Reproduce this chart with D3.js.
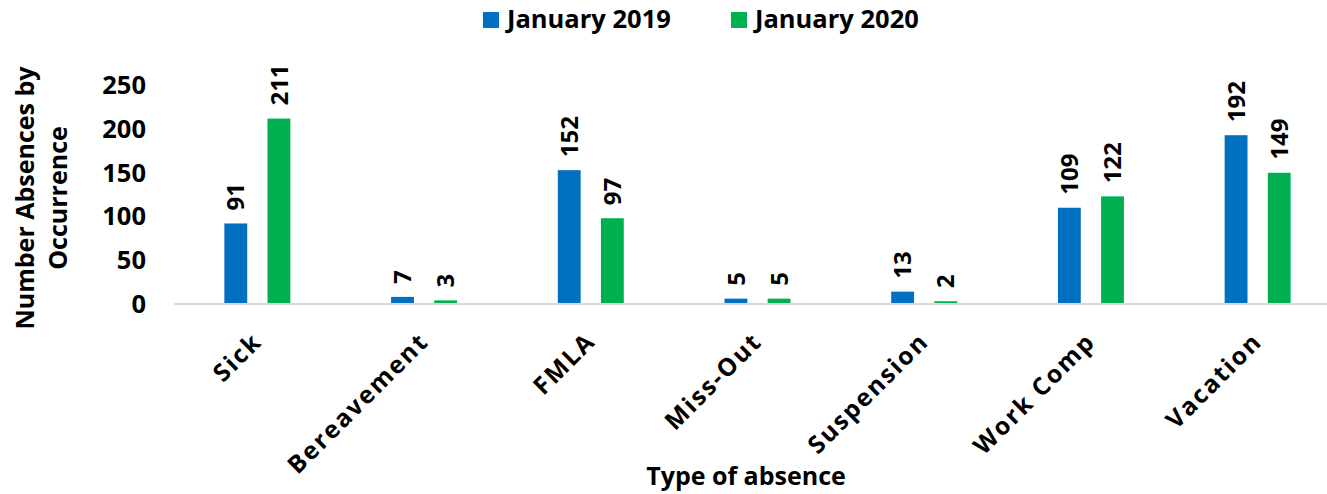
<!DOCTYPE html>
<html lang="en">
<head>
<meta charset="UTF-8">
<title>Absences</title>
<style>
  body { margin: 0; background: #fff; }
  text { font-family: "Open Sans", Lato, sans-serif; font-weight: bold; fill: #000; }
</style>
</head>
<body>
<script src="https://d3js.org/d3.v7.min.js"></script>
<script>
// data
var categories = ["Sick", "Bereavement", "FMLA", "Miss-Out", "Suspension", "Work Comp", "Vacation"];
var seriesNames = ["January 2019", "January 2020"];
var jan2019 = [91, 7, 152, 5, 13, 109, 192];
var jan2020 = [211, 3, 97, 5, 2, 122, 149];
var yTicks = [0, 50, 100, 150, 200, 250];
var colors = ["#0070C0", "#00B050"];

var width = 1327, height = 494;
var svg = d3.select("body").append("svg").attr("width", width).attr("height", height);

var x = d3.scaleBand().domain(categories).range([174, 1341]);
var sub = d3.scaleBand().domain(seriesNames).range([-33, 33]).paddingInner(0.47);
var y = d3.scaleLinear().domain([0, 250]).range([303, 84.5]);

var rows = categories.map(function (c, i) {
  return { cat: c, vals: [jan2019[i], jan2020[i]] };
});

// y axis labels
var yAxis = d3.axisLeft(y).tickValues(yTicks).tickSize(0).tickPadding(0);
var gy = svg.append("g").attr("transform", "translate(146,0)").call(yAxis);
gy.select(".domain").remove();
gy.selectAll("text").style("font-size", "25.5px").attr("dy", "0.36em");

// baseline
svg.append("line")
  .attr("x1", 174).attr("x2", width)
  .attr("y1", y(0) + 1).attr("y2", y(0) + 1)
  .attr("stroke", "#d9d9d9").attr("stroke-width", 2);

// bars
var groups = svg.selectAll(".grp").data(rows).enter().append("g")
  .attr("transform", function (d) { return "translate(" + (x(d.cat) + x.bandwidth() / 2) + ",0)"; });

groups.selectAll("rect").data(function (d) {
  return d.vals.map(function (v, i) { return { s: seriesNames[i], v: v, i: i }; });
}).enter().append("rect")
  .attr("x", function (d) { return sub(d.s); })
  .attr("width", sub.bandwidth())
  .attr("y", function (d) { return y(d.v); })
  .attr("height", function (d) { return y(0) - y(d.v); })
  .attr("fill", function (d) { return colors[d.i]; });

groups.selectAll(".lbl").data(function (d) {
  return d.vals.map(function (v, i) { return { s: seriesNames[i], v: v }; });
}).enter().append("text")
  .attr("transform", function (d) {
    return "translate(" + (sub(d.s) + sub.bandwidth() / 2) + "," + (y(d.v) - 13) + ") rotate(-90)";
  })
  .attr("dy", "0.36em")
  .style("font-size", "24px")
  .text(function (d) { return d.v; });

// x category labels
svg.selectAll(".xl").data(categories).enter().append("text")
  .attr("transform", function (d) {
    return "translate(" + (x(d) + x.bandwidth() / 2 + 6) + ",343) rotate(-45)";
  })
  .attr("text-anchor", "end")
  .style("font-size", "24.5px")
  .style("letter-spacing", "2px")
  .text(function (d) { return d; });

// axis titles
svg.append("text").attr("x", 746).attr("y", 485).attr("text-anchor", "middle")
  .style("font-size", "25px").text("Type of absence");

var yt = svg.append("text").attr("transform", "translate(0,198) rotate(-90)")
  .attr("text-anchor", "middle").style("font-size", "25px");
yt.append("tspan").attr("x", 0).attr("y", 34).text("Number Absences by");
yt.append("tspan").attr("x", 0).attr("y", 67).text("Occurrence");

// legend
var legendX = [483, 731];
var lg = svg.selectAll(".lg").data(seriesNames).enter().append("g")
  .attr("transform", function (d, i) { return "translate(" + legendX[i] + ",12)"; });
lg.append("rect").attr("width", 16).attr("height", 16).attr("fill", function (d, i) { return colors[i]; });
lg.append("text").attr("x", 24).attr("y", 16)
  .style("font-size", "25.5px").text(function (d) { return d; });
</script>
</body>
</html>
